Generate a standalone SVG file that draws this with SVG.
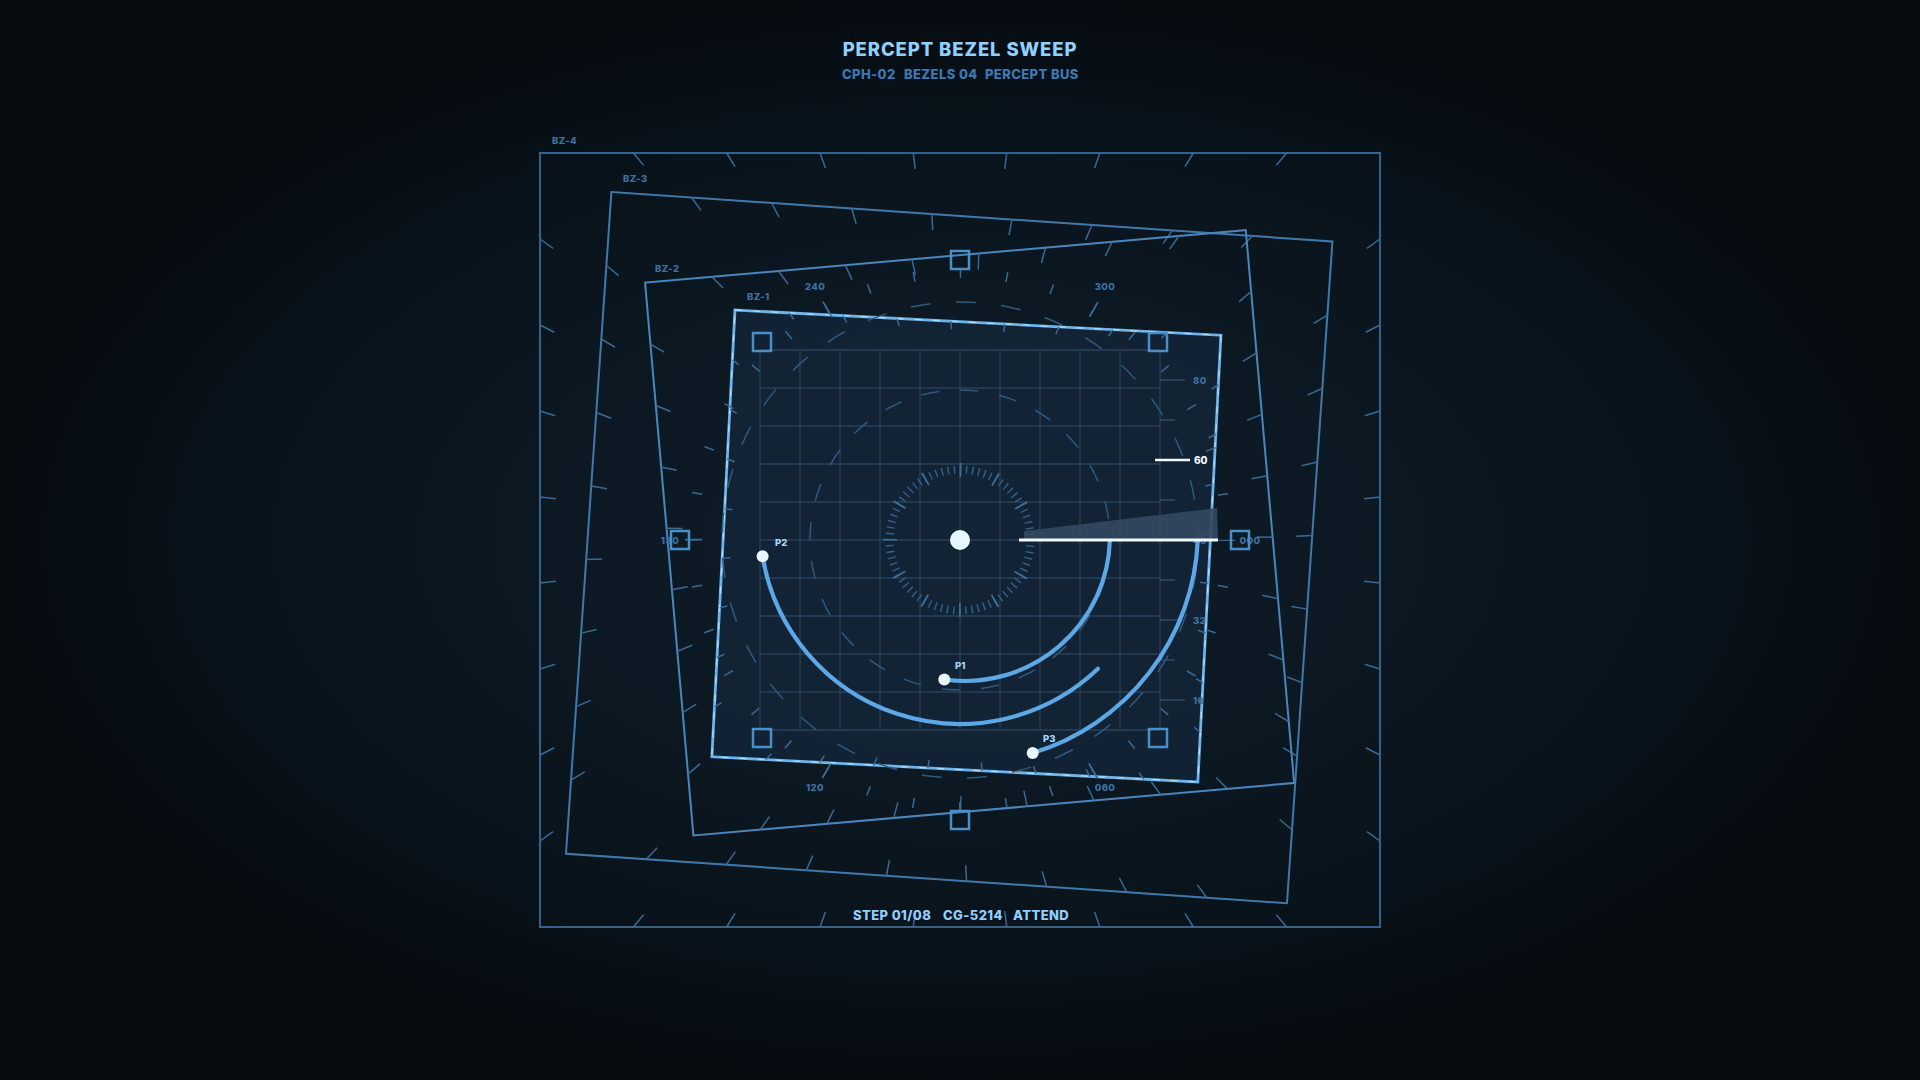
<svg xmlns="http://www.w3.org/2000/svg" width="1920" height="1080" viewBox="0 0 1920 1080">
<defs>
<radialGradient id="bg" cx="50%" cy="50%" r="50%">
<stop offset="0" stop-color="#0f1e2a"/>
<stop offset="0.45" stop-color="#0c1822"/>
<stop offset="0.8" stop-color="#08121a"/>
<stop offset="1" stop-color="#060b10"/>
</radialGradient>
<style>
.t{font-family:Inter,"Liberation Sans",sans-serif;font-weight:800}
.bz{fill:none;stroke-width:2}
.tk{fill:none;stroke:#3a6a94;stroke-width:1.5;stroke-dasharray:16 3000}
.lbl{font-size:9.5px;fill:#3f71a0;letter-spacing:0.4px}
.mk{fill:none;stroke:#4a8fc8;stroke-width:2.5}
.arc{fill:none;stroke:#5ca7e6;stroke-width:4.2;stroke-linecap:round}
.dot{fill:#e8f6ff}
.pl{font-size:9.5px;fill:#a9d8f8}
</style>
</defs>
<rect width="1920" height="1080" fill="url(#bg)"/>

<g id="title">
<text class="t" x="960" y="56" text-anchor="middle" font-size="18.5" fill="#8fd0ff" letter-spacing="0.9">PERCEPT BEZEL SWEEP</text>
<text class="t" y="79" font-size="13" fill="#3d79b3" letter-spacing="0.4"><tspan x="842">CPH-02</tspan><tspan x="904">BEZELS 04</tspan><tspan x="985">PERCEPT BUS</tspan></text>
</g>

<g id="bz4" transform="translate(960,540)">
<rect class="bz" x="-420" y="-387" width="840" height="774" stroke="#35628a"/>
<path class="tk" d="M-326.7-387L0 0M-233.3-387L0 0M-140-387L0 0M-46.7-387L0 0M46.7-387L0 0M140-387L0 0M233.3-387L0 0M326.7-387L0 0M-326.7 387L0 0M-233.3 387L0 0M-140 387L0 0M-46.7 387L0 0M46.7 387L0 0M140 387L0 0M233.3 387L0 0M326.7 387L0 0M-420-301L0 0M-420-215L0 0M-420-129L0 0M-420-43L0 0M-420 43L0 0M-420 129L0 0M-420 215L0 0M-420 301L0 0M420-301L0 0M420-215L0 0M420-129L0 0M420-43L0 0M420 43L0 0M420 129L0 0M420 215L0 0M420 301L0 0"/>
</g>
<g id="bz3" transform="translate(949.2,547.6) rotate(3.93)">
<rect class="bz" x="-361.35" y="-331.65" width="722.7" height="663.3" stroke="#4178aa"/>
<path class="tk" d="M-281.05-331.65L0 0M-200.75-331.65L0 0M-120.45-331.65L0 0M-40.15-331.65L0 0M40.15-331.65L0 0M120.45-331.65L0 0M200.75-331.65L0 0M281.05-331.65L0 0M-281.05 331.65L0 0M-200.75 331.65L0 0M-120.45 331.65L0 0M-40.15 331.65L0 0M40.15 331.65L0 0M120.45 331.65L0 0M200.75 331.65L0 0M281.05 331.65L0 0M-361.35-257.95L0 0M-361.35-184.25L0 0M-361.35-110.55L0 0M-361.35-36.85L0 0M-361.35 36.85L0 0M-361.35 110.55L0 0M-361.35 184.25L0 0M-361.35 257.95L0 0M361.35-257.95L0 0M361.35-184.25L0 0M361.35-110.55L0 0M361.35-36.85L0 0M361.35 36.85L0 0M361.35 110.55L0 0M361.35 184.25L0 0M361.35 257.95L0 0"/>
</g>
<g id="bz2" transform="translate(969.6,532.8) rotate(-5)">
<rect class="bz" x="-301.5" y="-277.5" width="603" height="555" stroke="#4a86bd"/>
<path class="tk" d="M-234.5-277.5L0 0M-167.5-277.5L0 0M-100.5-277.5L0 0M-33.5-277.5L0 0M33.5-277.5L0 0M100.5-277.5L0 0M167.5-277.5L0 0M234.5-277.5L0 0M-234.5 277.5L0 0M-167.5 277.5L0 0M-100.5 277.5L0 0M-33.5 277.5L0 0M33.5 277.5L0 0M100.5 277.5L0 0M167.5 277.5L0 0M234.5 277.5L0 0M-301.5-215.83L0 0M-301.5-154.17L0 0M-301.5-92.5L0 0M-301.5-30.83L0 0M-301.5 30.83L0 0M-301.5 92.5L0 0M-301.5 154.17L0 0M-301.5 215.83L0 0M301.5-215.83L0 0M301.5-154.17L0 0M301.5-92.5L0 0M301.5-30.83L0 0M301.5 30.83L0 0M301.5 92.5L0 0M301.5 154.17L0 0M301.5 215.83L0 0"/>
</g>
<g id="bz1" transform="translate(966.4,546) rotate(2.96)">
<rect x="-243.3" y="-223.65" width="486.6" height="447.3" fill="#122436" fill-opacity="0.92" stroke="#6db4ec" stroke-width="2.8"/>
<rect x="-243.3" y="-223.65" width="486.6" height="447.3" fill="none" stroke="#d4eeff" stroke-width="1.2" stroke-opacity="0.7" stroke-dasharray="7 11"/>
<path class="tk" style="stroke-dasharray:8 3000" d="M-189.23-223.65L0 0M-135.17-223.65L0 0M-81.1-223.65L0 0M-27.03-223.65L0 0M27.03-223.65L0 0M81.1-223.65L0 0M135.17-223.65L0 0M189.23-223.65L0 0M-189.23 223.65L0 0M-135.17 223.65L0 0M-81.1 223.65L0 0M-27.03 223.65L0 0M27.03 223.65L0 0M81.1 223.65L0 0M135.17 223.65L0 0M189.23 223.65L0 0M-243.3-173.95L0 0M-243.3-124.25L0 0M-243.3-74.55L0 0M-243.3-24.85L0 0M-243.3 24.85L0 0M-243.3 74.55L0 0M-243.3 124.25L0 0M-243.3 173.95L0 0M243.3-173.95L0 0M243.3-124.25L0 0M243.3-74.55L0 0M243.3-24.85L0 0M243.3 24.85L0 0M243.3 74.55L0 0M243.3 124.25L0 0M243.3 173.95L0 0"/>
</g>

<g id="bz-labels" class="t lbl">
<text x="552" y="144">BZ-4</text>
<text x="623" y="182">BZ-3</text>
<text x="655" y="272">BZ-2</text>
<text x="747" y="300">BZ-1</text>
</g>

<g id="grid" fill="none" stroke="#28415a" stroke-width="1.3">
<path d="M760 350V730M800 350V730M840 350V730M880 350V730M920 350V730M960 350V730M1000 350V730M1040 350V730M1080 350V730M1120 350V730M1160 350V730M760 350H1160M760 388H1160M760 426H1160M760 464H1160M760 502H1160M760 540H1160M760 578H1160M760 616H1160M760 654H1160M760 692H1160M760 730H1160"/>
</g>

<g id="rings" fill="none">
<circle cx="960" cy="540" r="150" stroke="#2f5a7e" stroke-width="1.5" stroke-dasharray="18 21.27"/>
<circle cx="960" cy="540" r="238" stroke="#2f5a7e" stroke-width="1.5" stroke-dasharray="20 25.315" transform="rotate(7.1 960 540)"/>
<circle cx="960" cy="540" r="267" stroke="#3a6a94" stroke-width="10" stroke-dasharray="1.5 45.1" stroke-dashoffset="0.75"/>
<circle cx="960" cy="540" r="266.5" stroke="#3a6a94" stroke-width="17" stroke-dasharray="1.8 277.27" stroke-dashoffset="0.9"/>
<circle cx="960" cy="540" r="70.5" stroke="#33618a" stroke-width="8" stroke-dasharray="1.4 4.752" stroke-dashoffset="0.7"/>
<circle cx="960" cy="540" r="70" stroke="#3e6f98" stroke-width="14" stroke-dasharray="1.8 34.85" stroke-dashoffset="0.9"/>
</g>

<g id="angle-labels" class="t lbl" text-anchor="middle" dominant-baseline="central">
<text x="1250" y="540">000</text>
<text x="1105" y="787">060</text>
<text x="815" y="787">120</text>
<text x="670" y="540">180</text>
<text x="815" y="286">240</text>
<text x="1105" y="286">300</text>
</g>

<g id="scale">
<path d="M1160 380H1185M1160 420H1175M1160 460H1185M1160 500H1175M1160 540H1185M1160 580H1175M1160 620H1185M1160 660H1175M1160 700H1185" stroke="#2e4c68" stroke-width="1.5"/>
<g class="t lbl">
<text x="1193" y="384">80</text>
<text x="1193" y="544">48</text>
<text x="1193" y="624">32</text>
<text x="1193" y="704">16</text>
</g>
</g>

<g id="connectors">
<path class="arc" d="M944.3 679.5A145 145 0 0 0 1109.9 540"/>
<path class="arc" d="M762.6 556.3A200 200 0 0 0 1097.9 668.8"/>
<path class="arc" d="M1032.7 753A233 233 0 0 0 1197.8 540"/>
</g>

<g id="sweep">
<polygon points="1024,540 1024,531 1217,508 1218,540" fill="#33495f" fill-opacity="0.92"/>
<line x1="1019" y1="540" x2="1218" y2="540" stroke="#f2f8ff" stroke-width="3"/>
</g>

<g id="indicator">
<line x1="1155" y1="460" x2="1190" y2="460" stroke="#f2f8ff" stroke-width="2.5"/>
<text class="t" x="1194" y="464" font-size="10" fill="#f2f8ff">60</text>
</g>

<g id="markers">
<rect class="mk" x="753" y="333" width="18" height="18"/>
<rect class="mk" x="1149" y="333" width="18" height="18"/>
<rect class="mk" x="753" y="729" width="18" height="18"/>
<rect class="mk" x="1149" y="729" width="18" height="18"/>
<rect class="mk" x="951" y="251" width="18" height="18"/>
<rect class="mk" x="951" y="811" width="18" height="18"/>
<rect class="mk" x="671" y="531" width="18" height="18"/>
<rect class="mk" x="1231" y="531" width="18" height="18" stroke="#f0922e"/>
</g>

<g id="center"><circle class="dot" cx="960" cy="540" r="10"/></g>
<g id="p1"><circle class="dot" cx="944.3" cy="679.5" r="6"/><text class="t pl" x="955" y="669">P1</text></g>
<g id="p2"><circle class="dot" cx="762.6" cy="556.3" r="6"/><text class="t pl" x="775" y="546">P2</text></g>
<g id="p3"><circle class="dot" cx="1032.7" cy="753" r="6"/><text class="t pl" x="1043" y="742">P3</text></g>

<g id="footer">
<text class="t" y="920" font-size="13" fill="#8fd0ff" letter-spacing="0.4"><tspan x="853">STEP 01/08</tspan><tspan x="943">CG-5214</tspan><tspan x="1013">ATTEND</tspan></text>
</g>
</svg>
